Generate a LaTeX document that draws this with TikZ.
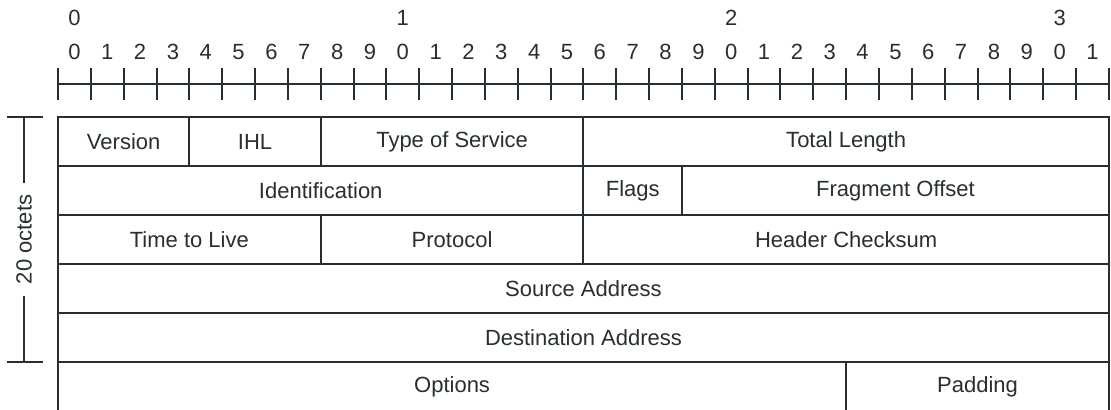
\documentclass[tikz,border=0pt]{standalone}
\usepackage{fontspec}
\setmainfont{Liberation Sans}
\usetikzlibrary{positioning,calc}
\definecolor{ink}{RGB}{38,48,44}

\begin{document}
\begin{tikzpicture}[
    x=0.5pt, y=-0.5pt,
    line width=1pt, draw=ink, text=ink,
    node distance=0pt,
    field/.style={rectangle, draw=ink, inner sep=0pt, outer sep=0pt, minimum height=24.5pt, font=\fontsize{11}{13}\selectfont},
    bits/.style={minimum width=#1*16.42pt},
    digit/.style={inner sep=0pt, font=\fontsize{11}{13}\selectfont}
]
    \useasboundingbox (0,0) rectangle (1111,410);

    % bit ruler
    \draw (58,84) -- (1109,84);
    \foreach \i in {0,...,32}
        \draw (58+\i*32.84,68) -- ++(0,32);
    \foreach \i in {0,...,31}{
        \pgfmathtruncatemacro{\d}{mod(\i,10)}
        \node[digit] (bit\i) at (74.4+\i*32.84,52) {\d};
    }
    \foreach \i/\t in {0/0,10/1,20/2,30/3}
        \node[digit] (ten\t) at (74.4+\i*32.84,18) {\t};

    % header fields
    \node[field, bits=4, anchor=north west] (version) at (58,117) {Version};
    \node[field, bits=4, right=of version] (ihl) {IHL};
    \node[field, bits=8, right=of ihl] (tos) {Type of Service};
    \node[field, bits=16, right=of tos] (totlen) {Total Length};

    \node[field, bits=16, below=of $(version.south west)!0.5!(tos.south east)$] (ident) {Identification};
    \node[field, bits=3, right=of ident] (flags) {Flags};
    \node[field, bits=13, right=of flags] (fragoff) {Fragment Offset};

    \node[field, bits=8, anchor=north west] (ttl) at (ident.south west) {Time to Live};
    \node[field, bits=8, right=of ttl] (proto) {Protocol};
    \node[field, bits=16, right=of proto] (checksum) {Header Checksum};

    \node[field, bits=32, anchor=north west] (srcaddr) at (ttl.south west) {Source Address};
    \node[field, bits=32, below=of srcaddr] (dstaddr) {Destination Address};

    \node[field, bits=24, anchor=north west] (options) at (dstaddr.south west) {Options};
    \node[field, bits=8, right=of options] (padding) {Padding};

    % header length marker
    \coordinate (octtop) at (version.north west -| 24,0);
    \coordinate (octbot) at (dstaddr.south west -| 24,0);
    \draw (octtop) -- (octbot) node[midway, rotate=90, fill=white, inner sep=6pt, font=\fontsize{11}{13}\selectfont] {20 octets};
    \draw ($(octtop)+(-17,0)$) -- ($(octtop)+(19,0)$);
    \draw ($(octbot)+(-17,0)$) -- ($(octbot)+(19,0)$);
\end{tikzpicture}
\end{document}
